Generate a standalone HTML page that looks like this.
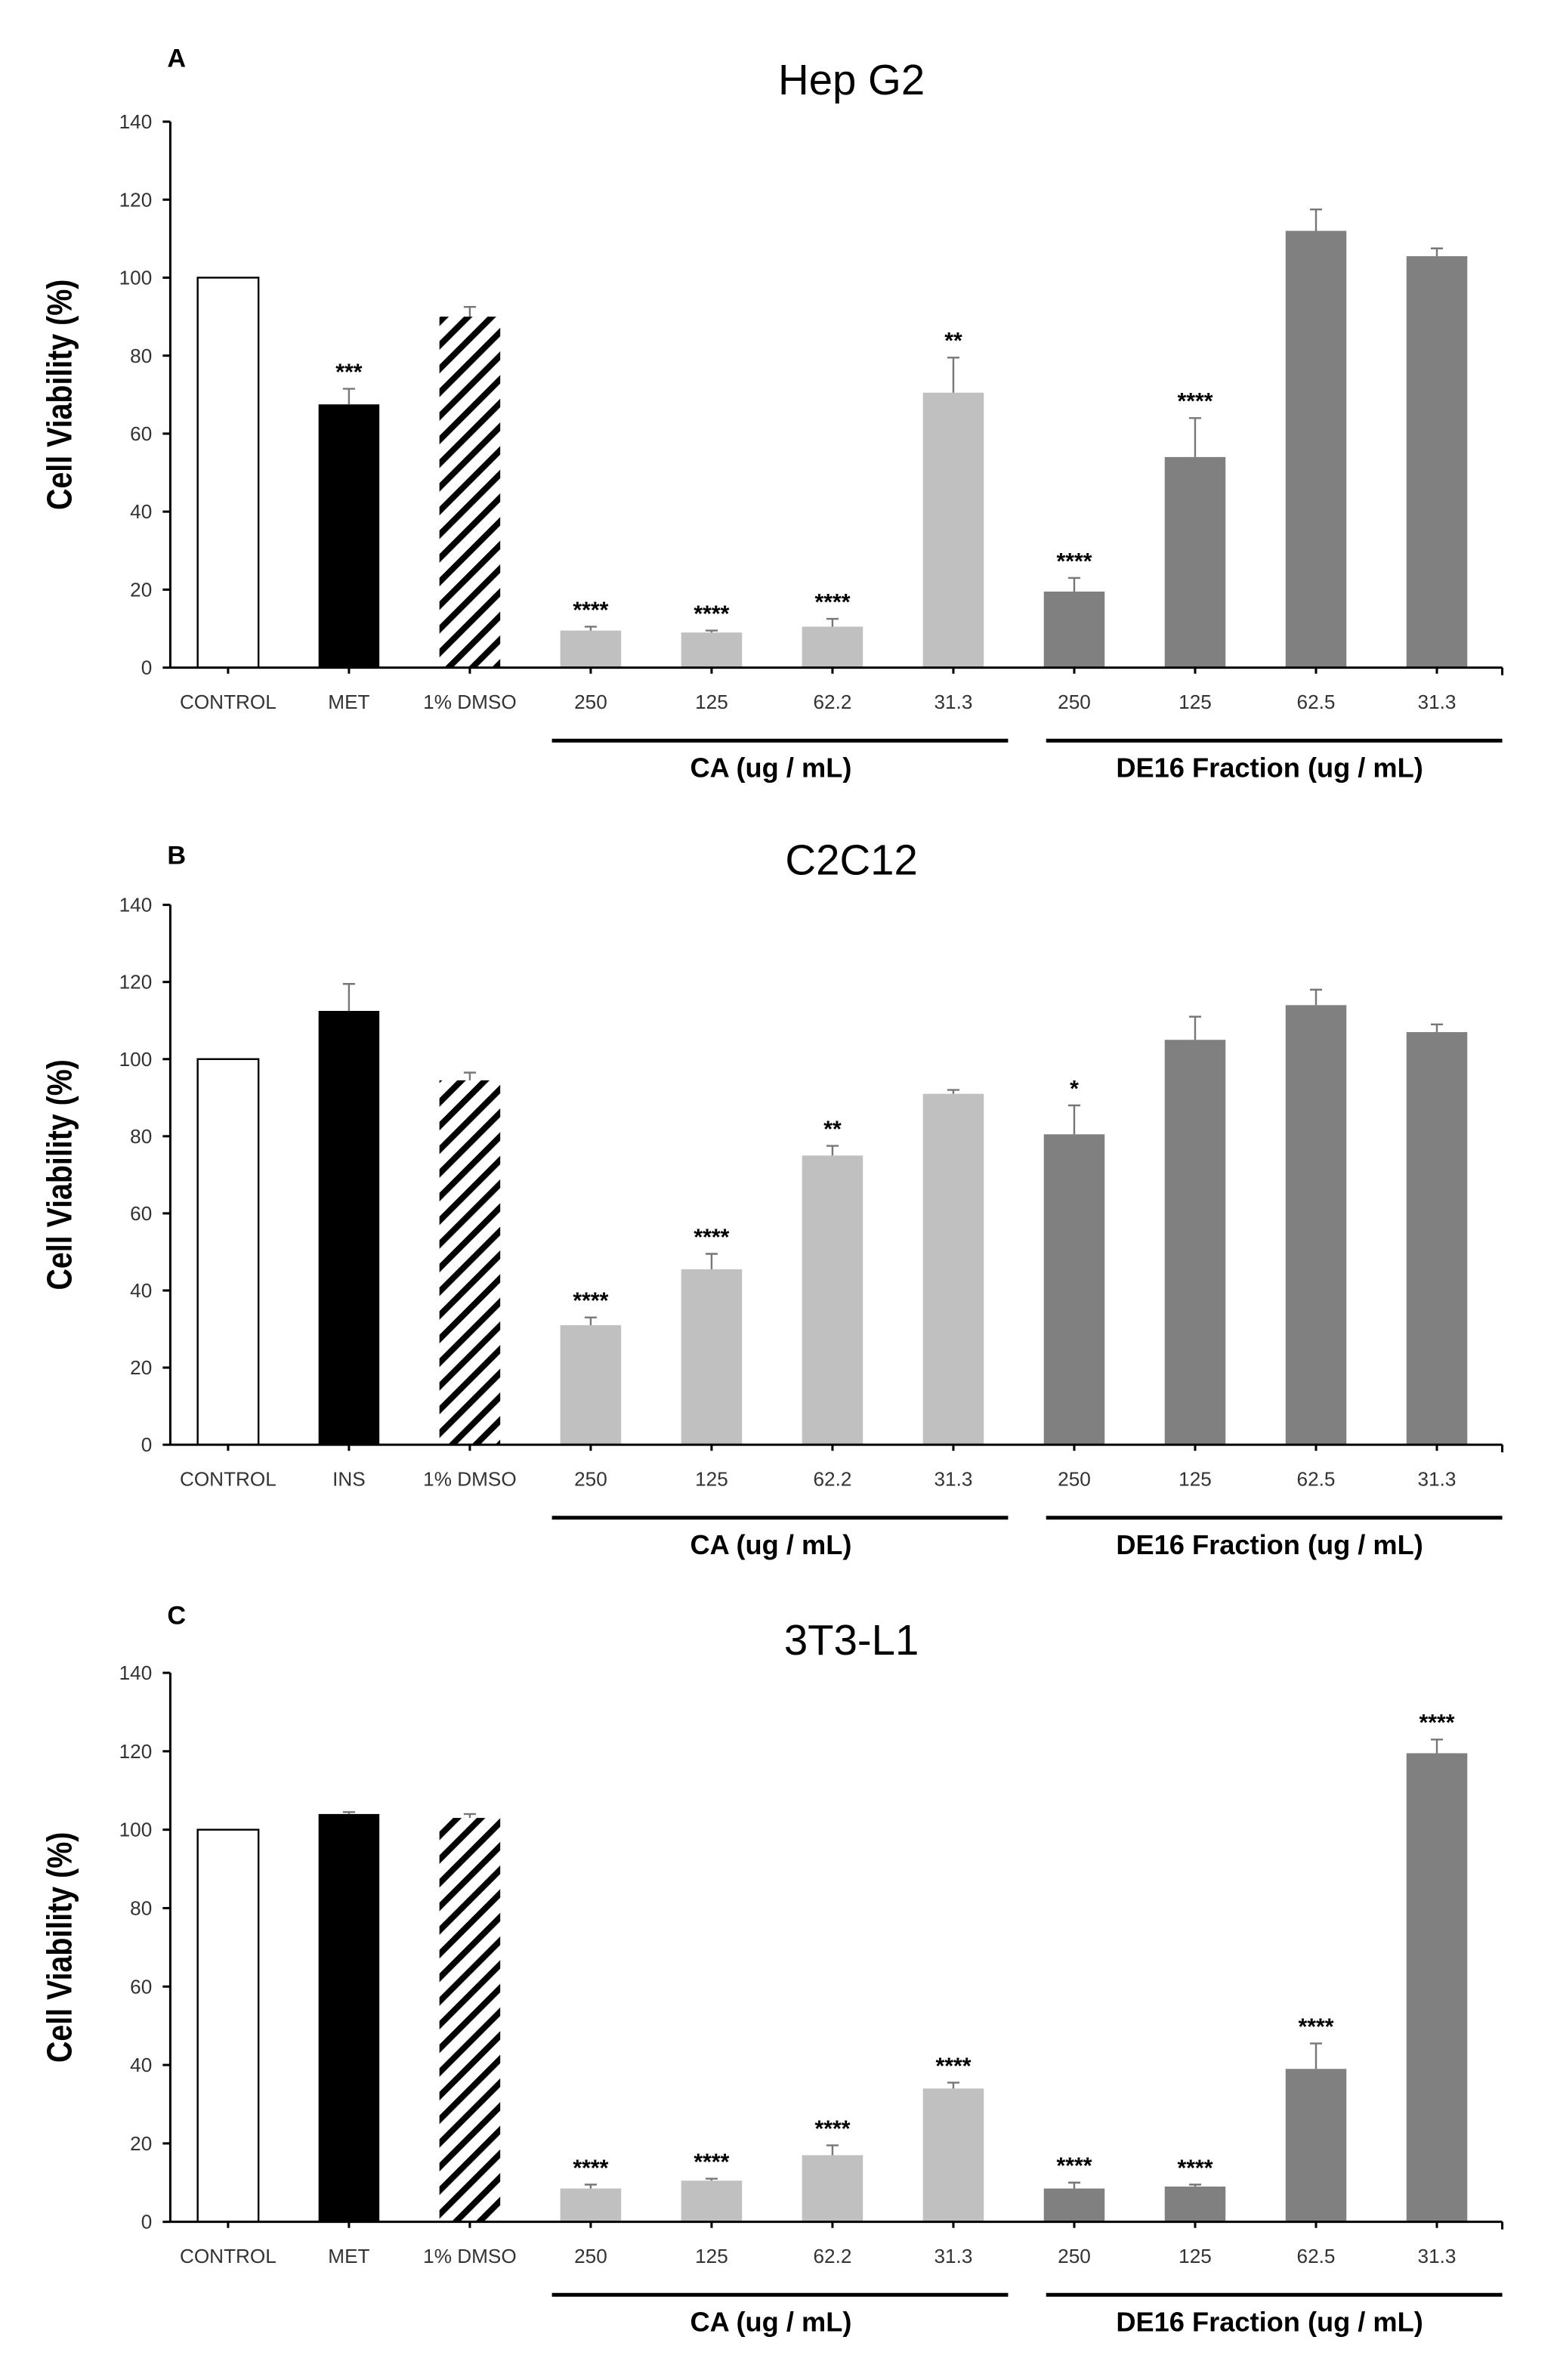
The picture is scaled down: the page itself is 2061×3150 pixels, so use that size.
<!DOCTYPE html>
<html><head><meta charset="utf-8"><style>
html,body{margin:0;padding:0;background:#fff;}
svg{display:block;}
text{font-family:"Liberation Sans",sans-serif;}
</style></head><body>
<svg id="fig" width="2061" height="3150" viewBox="0 0 1024 1565" preserveAspectRatio="none" xmlns="http://www.w3.org/2000/svg">
<defs>
<pattern id="hatch" patternUnits="userSpaceOnUse" width="11" height="11" patternTransform="rotate(45)">
<rect width="11" height="11" fill="#fff"/><rect width="4" height="11" fill="#000"/>
</pattern>
</defs>
</svg>
<script>
const categoriesA = ["CONTROL","MET","1% DMSO","250","125","62.2","31.3","250","125","62.5","31.3"];
const categoriesB = ["CONTROL","INS","1% DMSO","250","125","62.2","31.3","250","125","62.5","31.3"];
const categoriesC = ["CONTROL","MET","1% DMSO","250","125","62.2","31.3","250","125","62.5","31.3"];
const valuesA = [100,67.5,90,9.5,9,10.5,70.5,19.5,54,112,105.5];
const errorsA = [0,4,2.5,1,0.5,2,9,3.5,10,5.5,2];
const starsA = ["","***","","****","****","****","**","****","****","",""];
const valuesB = [100,112.5,94.5,31,45.5,75,91,80.5,105,114,107];
const errorsB = [0,7,2,2,4,2.5,1,7.5,6,4,2];
const starsB = ["","","","****","****","**","","*","","",""];
const valuesC = [100,104,103,8.5,10.5,17,34,8.5,9,39,119.5];
const errorsC = [0,0.5,1,1,0.5,2.5,1.5,1.5,0.5,6.5,3.5];
const starsC = ["","","","****","****","****","****","****","****","****","****"];
const yTicks = [0,20,40,60,80,100,120,140];
const groupLabels = ["CA (ug / mL)","DE16 Fraction (ug / mL)"];

const svg = document.getElementById('fig');
const NS = "http://www.w3.org/2000/svg";
function el(tag, attrs, parent){const e=document.createElementNS(NS,tag);for(const k in attrs)e.setAttribute(k,attrs[k]);(parent||svg).appendChild(e);return e;}

const panels = [
 {letter:"A",title:"Hep G2",cats:categoriesA,vals:valuesA,errs:errorsA,stars:starsA,y0:439,y140:80,titleY:62,letterY:44},
 {letter:"B",title:"C2C12",cats:categoriesB,vals:valuesB,errs:errorsB,stars:starsB,y0:950,y140:595,titleY:575,letterY:568},
 {letter:"C",title:"3T3-L1",cats:categoriesC,vals:valuesC,errs:errorsC,stars:starsC,y0:1461,y140:1100,titleY:1088,letterY:1068}
];
const axisX = 112, axisEnd = 988, firstX = 150, step = 79.5, barW = 40;
function xScale(i){return firstX + i*step;}

panels.forEach((p,pi)=>{
 const g = el('g',{});
 
 
 const yS = v => p.y0 - (v/140)*(p.y0-p.y140);
 const lt = el('text',{x:110,y:p.letterY,'font-size':17,'font-weight':'bold',fill:'#000'},g); lt.textContent=p.letter;
 
 
 const tt = el('text',{x:560,y:p.titleY,'font-size':28,'text-anchor':'middle',fill:'#000'},g); tt.textContent=p.title;
 
 
 const yt = el('text',{x:0,y:0,'font-size':23,'font-weight':'bold','text-anchor':'middle',fill:'#000',transform:`translate(47,${(p.y0+p.y140)/2}) rotate(-90) scale(0.85,1)`},g); yt.textContent="Cell Viability (%)";
 
 
 yTicks.forEach(t=>{
  const y=yS(t);
  el('line',{x1:axisX-5,x2:axisX,y1:y,y2:y,stroke:'#000','stroke-width':1.5},g);
  const tx=el('text',{x:axisX-12,y:y+4.5,'font-size':13,'text-anchor':'end',fill:'#333'},g); tx.textContent=t;
  
  
 });
 p.vals.forEach((v,i)=>{
  const cx=xScale(i), top=yS(v);
  let fill = i===0?'#fff':i===1?'#000':i===2?'url(#hatch)':i<7?'#c0c0c0':'#808080';
  const r=el('rect',{x:cx-barW/2,y:top,width:barW,height:p.y0-top,fill:fill,stroke:i===0?'#000':'none','stroke-width':1.2},g);
  
  
  if(p.errs[i]>0){
   const ye=yS(v+p.errs[i]);
   el('line',{x1:cx,x2:cx,y1:top,y2:ye,stroke:'#777','stroke-width':1.2},g);
   el('line',{x1:cx-4,x2:cx+4,y1:ye,y2:ye,stroke:'#777','stroke-width':1.2},g);
  }
  if(p.stars[i]){
   const st=el('text',{x:cx,y:yS(v+p.errs[i])-6,'font-size':15,'font-weight':'bold','text-anchor':'middle',fill:'#000'},g); st.textContent=p.stars[i];
   
   
  }
  el('line',{x1:cx,x2:cx,y1:p.y0,y2:p.y0+4,stroke:'#000','stroke-width':1.5},g);
  const xl=el('text',{x:cx,y:p.y0+27,'font-size':13,'text-anchor':'middle',fill:'#333'},g); xl.textContent=p.cats[i];
  
  
 });
 el('line',{x1:axisX,x2:axisX,y1:p.y140,y2:p.y0,stroke:'#000','stroke-width':1.5},g);
 el('line',{x1:axisX,x2:axisEnd,y1:p.y0,y2:p.y0,stroke:'#000','stroke-width':1.5},g);
 el('line',{x1:axisEnd,x2:axisEnd,y1:p.y0,y2:p.y0+5,stroke:'#000','stroke-width':1.5},g);
 const uy=p.y0+48;
 el('line',{x1:363,x2:663,y1:uy,y2:uy,stroke:'#000','stroke-width':2.5},g);
 el('line',{x1:688,x2:988,y1:uy,y2:uy,stroke:'#000','stroke-width':2.5},g);
 const g1=el('text',{x:507,y:uy+24,'font-size':18,'font-weight':'bold','text-anchor':'middle',fill:'#000'},g); g1.textContent=groupLabels[0];
 
 
 const g2=el('text',{x:835,y:uy+24,'font-size':18,'font-weight':'bold','text-anchor':'middle',fill:'#000'},g); g2.textContent=groupLabels[1];
 
 
});
</script>
</body></html>
